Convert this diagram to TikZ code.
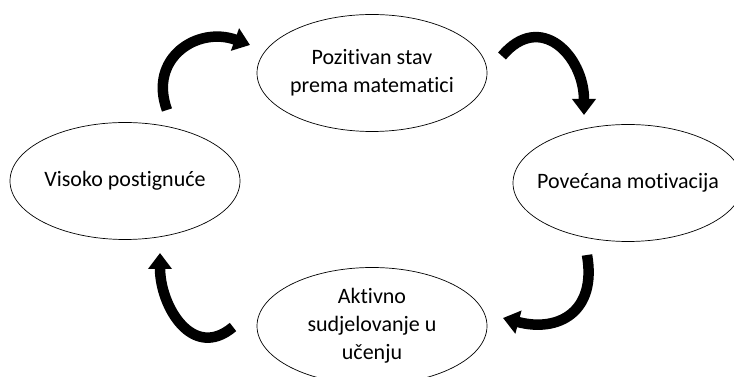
\documentclass[tikz,border=0pt]{standalone}
\usepackage{fontspec}
\setmainfont{Carlito}[RawFeature=-liga]
\usetikzlibrary{shapes.geometric}
\usetikzlibrary{arrows.meta}

\begin{document}
\begin{tikzpicture}[x=1pt, y=1pt,
        bubble/.style={draw, ellipse, line width=0.7pt, minimum width=230pt,
            minimum height=117pt, inner xsep=-15pt, inner ysep=0pt, align=center,
            font=\fontsize{22}{28}\selectfont},
        cyclearrow/.style={line width=10.5pt, -{Triangle[length=16pt, width=23pt]}}]
            % Fix the page to the picture
            \useasboundingbox (0,0) rectangle (734,377);

            % Draw the four stages
            \node[bubble] (stav) at (372,304) {Pozitivan stav\\prema matematici};
            \node[bubble] (motivacija) at (628,194) {Povećana motivacija};
            \node[bubble] (ucenje) at (372,51) {Aktivno\\sudjelovanje u\\učenju};
            \node[bubble] (postignuce) at (125,196) {Visoko postignuće};

            % Arrow ends
            \coordinate (a1s) at (167,267);
            \coordinate (a1e) at (250,332);
            \coordinate (a2s) at (502,321);
            \coordinate (a2e) at (584,262);
            \coordinate (a3s) at (587,122);
            \coordinate (a3e) at (503,59);
            \coordinate (a4s) at (233,50);
            \coordinate (a4e) at (160,124);

            % Draw the curved arrows
            \draw[cyclearrow] (a1s) to[out=110, in=160, looseness=1.35] (a1e);
            \draw[cyclearrow] (a2s) to[out=50, in=90, looseness=1.5] (a2e);
            \draw[cyclearrow] (a3s) to[out=-80, in=-15, looseness=1.4] (a3e);
            \draw[cyclearrow] (a4s) to[out=220, in=-90, looseness=1.3] (a4e);

        \end{tikzpicture}
\end{document}
